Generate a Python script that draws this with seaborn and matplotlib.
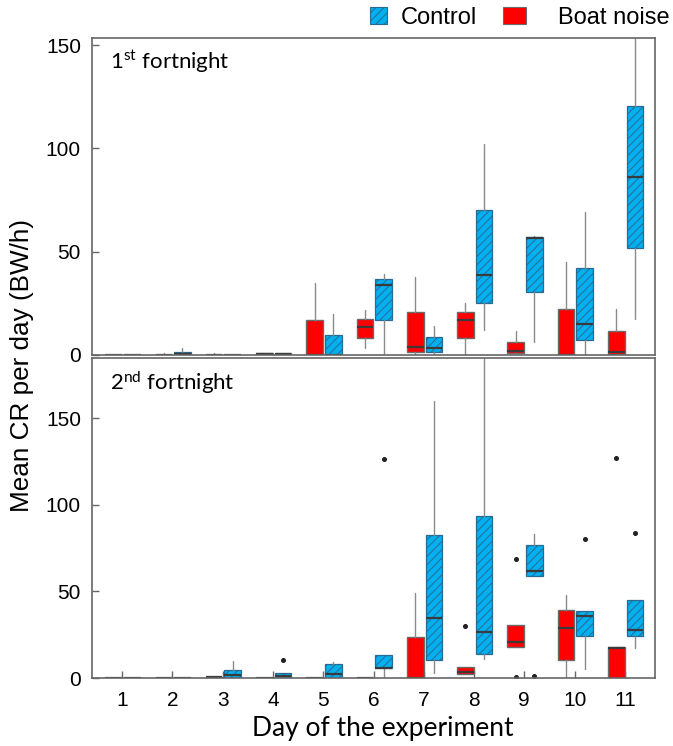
import matplotlib
matplotlib.use("Agg")
import matplotlib.pyplot as plt
from matplotlib.patches import Patch
import seaborn as sns

# ---------------- data ----------------
days = [1, 2, 3, 4, 5, 6, 7, 8, 9, 10, 11]
series_names = ["Control", "Boat noise"]
panel_titles = ["1$^{\\mathrm{st}}$ fortnight", "2$^{\\mathrm{nd}}$ fortnight"]

# five-number summaries per day: (whisker low, Q1, median, Q3, whisker high)
f1_noise = [(0, 0, 0, 0, 0), (0, 0, 0, 0, 1.0), (0, 0, 0, 0, 1.0), (0, 0, 0.3, 0.8, 0.8),
            (0, 0, 0, 17, 34.6), (3.2, 8, 13.5, 17.4, 22), (0, 1.6, 4.1, 20.8, 37.7),
            (0, 8, 17.1, 20.8, 25.2), (0, 0.8, 2, 6.3, 11.5), (0, 0, 0, 22.1, 45),
            (0, 0.5, 1.6, 11.7, 22.3)]
f1_control = [(0, 0, 0, 0, 0), (0, 0, 0.5, 1.5, 3.4), (0, 0, 0, 0, 0), (0, 0, 0.3, 0.8, 0.8),
              (0, 0, 0, 9.8, 20), (0, 16.7, 33.7, 36.6, 39.3), (0, 1.5, 3.6, 8.5, 13.8),
              (11.9, 25.2, 38.7, 70.2, 102), (6.3, 30.7, 56.4, 56.9, 57.7),
              (0, 7.2, 15.1, 42, 69.1), (17.4, 51.7, 86, 120.3, 165)]
f2_noise = [(0, 0, 0, 0, 0), (0, 0, 0, 0, 0), (0, 0, 0.3, 0.8, 0.8), (0, 0, 0, 0, 0),
            (0, 0, 0, 0, 0), (0, 0, 0, 0, 0), (0, 0, 0, 23.8, 49),
            (2.3, 2.3, 3.6, 6.3, 6.3), (18.1, 18.1, 21, 30.6, 30.6),
            (0, 10.6, 29, 39.4, 48.2), (0, 0, 17.6, 18.1, 18.1)]
f2_control = [(0, 0, 0, 0, 0), (0, 0, 0, 0, 0), (0, 0, 1.7, 4.8, 9.6), (0, 0, 1, 2.9, 2.9),
              (0, 0, 2.5, 8.2, 9.2), (0, 5.6, 6, 13.4, 13.4), (3, 10.2, 34.8, 82.5, 160),
              (11.1, 13.8, 26.7, 93.3, 200), (59, 59, 61.9, 76.7, 83.1),
              (5, 24.4, 35.6, 38.7, 38.7), (17.3, 24.4, 27.9, 45, 45)]
# outliers: day -> values
f1_noise_out = {}
f1_control_out = {}
f2_noise_out = {8: [30.2], 9: [69, 0.5], 11: [127]}
f2_control_out = {4: [10.4], 6: [126.5], 9: [0.9], 10: [80.2], 11: [84]}

yticks = [0, 50, 100, 150]
ylims = [(0, 153.4), (0, 184.8)]

# ---------------- style ----------------
sns.set_theme(style="white")
plt.rcParams["font.family"] = ["Liberation Sans", "DejaVu Sans"]
plt.rcParams["mathtext.fontset"] = "custom"
plt.rcParams["mathtext.rm"] = "Lato"
plt.rcParams["mathtext.default"] = "regular"
plt.rcParams["hatch.linewidth"] = 0.7
plt.rcParams["text.color"] = "black"

RED = "#FF0000"
BLUE = "#00B0F0"
EDGE = "#6a6a6a"
HATCH_EDGE = "#2a6a90"
MED = "#3a3a3a"
WHISK = "#8a8a8a"
SPINE = "#666666"

fig = plt.figure(figsize=(6.73, 7.46), dpi=100)
L, R = 92 / 673, 655 / 673
ax1 = fig.add_axes([L, 1 - 355 / 746, R - L, (355 - 38) / 746])
ax2 = fig.add_axes([L, 1 - 678 / 746, R - L, (678 - 358) / 746])


def make_stats(summ, outs):
    st = []
    for d, (wl, q1, md, q3, wh) in zip(days, summ):
        st.append(dict(whislo=wl, q1=q1, med=md, q3=q3, whishi=wh,
                       fliers=outs.get(d, []), label=str(d)))
    return st


def draw(ax, noise, control, noise_out, control_out):
    common = dict(widths=0.33, patch_artist=True, showcaps=False, manage_ticks=False,
                  whiskerprops=dict(color=WHISK, lw=1.0),
                  medianprops=dict(color=MED, lw=1.6),
                  flierprops=dict(marker="o", markersize=2.6, markerfacecolor="#222222",
                                  markeredgecolor="#222222", linestyle="none"))
    ax.bxp(make_stats(noise, noise_out), positions=[d - 0.17 for d in days],
           boxprops=dict(facecolor=RED, edgecolor=EDGE, lw=1.0), **common)
    ax.bxp(make_stats(control, control_out), positions=[d + 0.2 for d in days],
           boxprops=dict(facecolor=BLUE, edgecolor=HATCH_EDGE, lw=0.9, hatch="////"),
           **common)
    ax.set_xlim(0.4, 11.6)
    ax.set_yticks(yticks)
    ax.tick_params(axis="y", direction="in", length=5, width=1, color=SPINE,
                   labelsize=15, labelcolor="black", pad=8, left=True)
    for s in ax.spines.values():
        s.set_color(SPINE)
        s.set_linewidth(1.2)


draw(ax1, f1_noise, f1_control, f1_noise_out, f1_control_out)
draw(ax2, f2_noise, f2_control, f2_noise_out, f2_control_out)
ax1.set_ylim(*ylims[0])
ax2.set_ylim(*ylims[1])
ax1.set_xticks([])
ax2.set_xticks(days)
ax2.set_xticklabels([str(d) for d in days])
ax2.tick_params(axis="x", direction="in", length=5, width=1, color=SPINE,
                labelsize=15, labelcolor="black", pad=9, bottom=True)

for ax, t in zip([ax1, ax2], panel_titles):
    ax.text(0.032, 0.965, t, transform=ax.transAxes, fontsize=16, family="Lato",
            va="top", ha="left", color="black")

fig.text(22 / 673, 1 - 365.5 / 746, "Mean CR per day (BW/h)", rotation=90,
         family=["Liberation Sans", "DejaVu Sans"], fontsize=18.8, va="center",
         ha="center", color="black")
fig.text(383 / 673, 0.024, "Day of the experiment", family="Lato", fontsize=19,
         ha="center", va="center", color="black")

h_control = Patch(facecolor=BLUE, edgecolor=HATCH_EDGE, hatch="////", lw=0.8)
h_noise = Patch(facecolor=RED, edgecolor=EDGE, lw=0.8)
fig.legend([h_control], [series_names[0]], loc="center left",
           bbox_to_anchor=(365 / 673, 1 - 18 / 746), frameon=False, fontsize=17,
           handlelength=0.75, handleheight=0.75, handletextpad=0.55,
           borderaxespad=0, borderpad=0.2)
fig.legend([h_noise], [series_names[1]], loc="center left",
           bbox_to_anchor=(498 / 673, 1 - 18 / 746), frameon=False, fontsize=17,
           handlelength=1.0, handleheight=0.75, handletextpad=1.35,
           borderaxespad=0, borderpad=0.2)

fig.savefig("out.png", dpi=100)
